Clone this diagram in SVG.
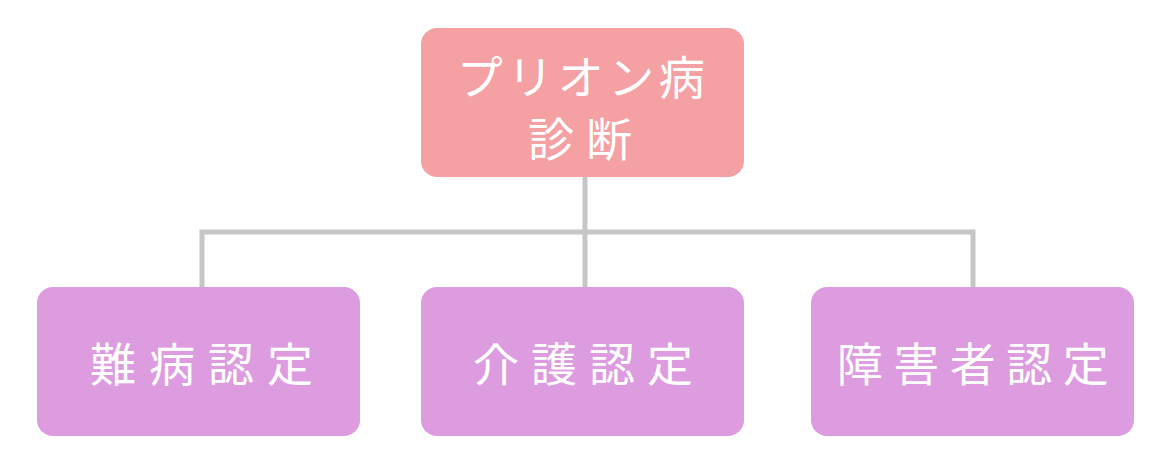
<svg xmlns="http://www.w3.org/2000/svg" width="1170" height="470" viewBox="0 0 1170 470">
<style>
.top{fill:#F5A1A4}
.sub{fill:#DD9CE0}
.t{fill:#FFFFFF;font-family:"Noto Sans CJK JP","Noto Sans",sans-serif;font-size:46px;font-weight:400;text-anchor:middle;dominant-baseline:central}
.conn{fill:none;stroke:#C6C6C6;stroke-width:5}
</style>
<rect width="1170" height="470" fill="#FFFFFF"/>
<g id="connectors">
<path class="conn" d="M585 177 V232"/>
<path class="conn" d="M202 287 V232 H973 V287"/>
<path class="conn" d="M585 232 V287"/>
</g>
<g id="node-prion">
<rect class="top" x="421" y="28" width="323" height="149" rx="16"/>
<text class="t" x="583" y="74" style="letter-spacing:4.5px">プリオン病</text>
<text class="t" x="586" y="136" style="letter-spacing:12px">診断</text>
</g>
<g id="node-nanbyo">
<rect class="sub" x="37" y="287" width="323" height="149" rx="16"/>
<text class="t" x="208" y="361" style="letter-spacing:13px">難病認定</text>
</g>
<g id="node-kaigo">
<rect class="sub" x="421" y="287" width="323" height="149" rx="16"/>
<text class="t" x="589" y="361" style="letter-spacing:12px">介護認定</text>
</g>
<g id="node-shogai">
<rect class="sub" x="811" y="287" width="323" height="149" rx="16"/>
<text class="t" x="978" y="361" style="letter-spacing:10.5px">障害者認定</text>
</g>
</svg>
